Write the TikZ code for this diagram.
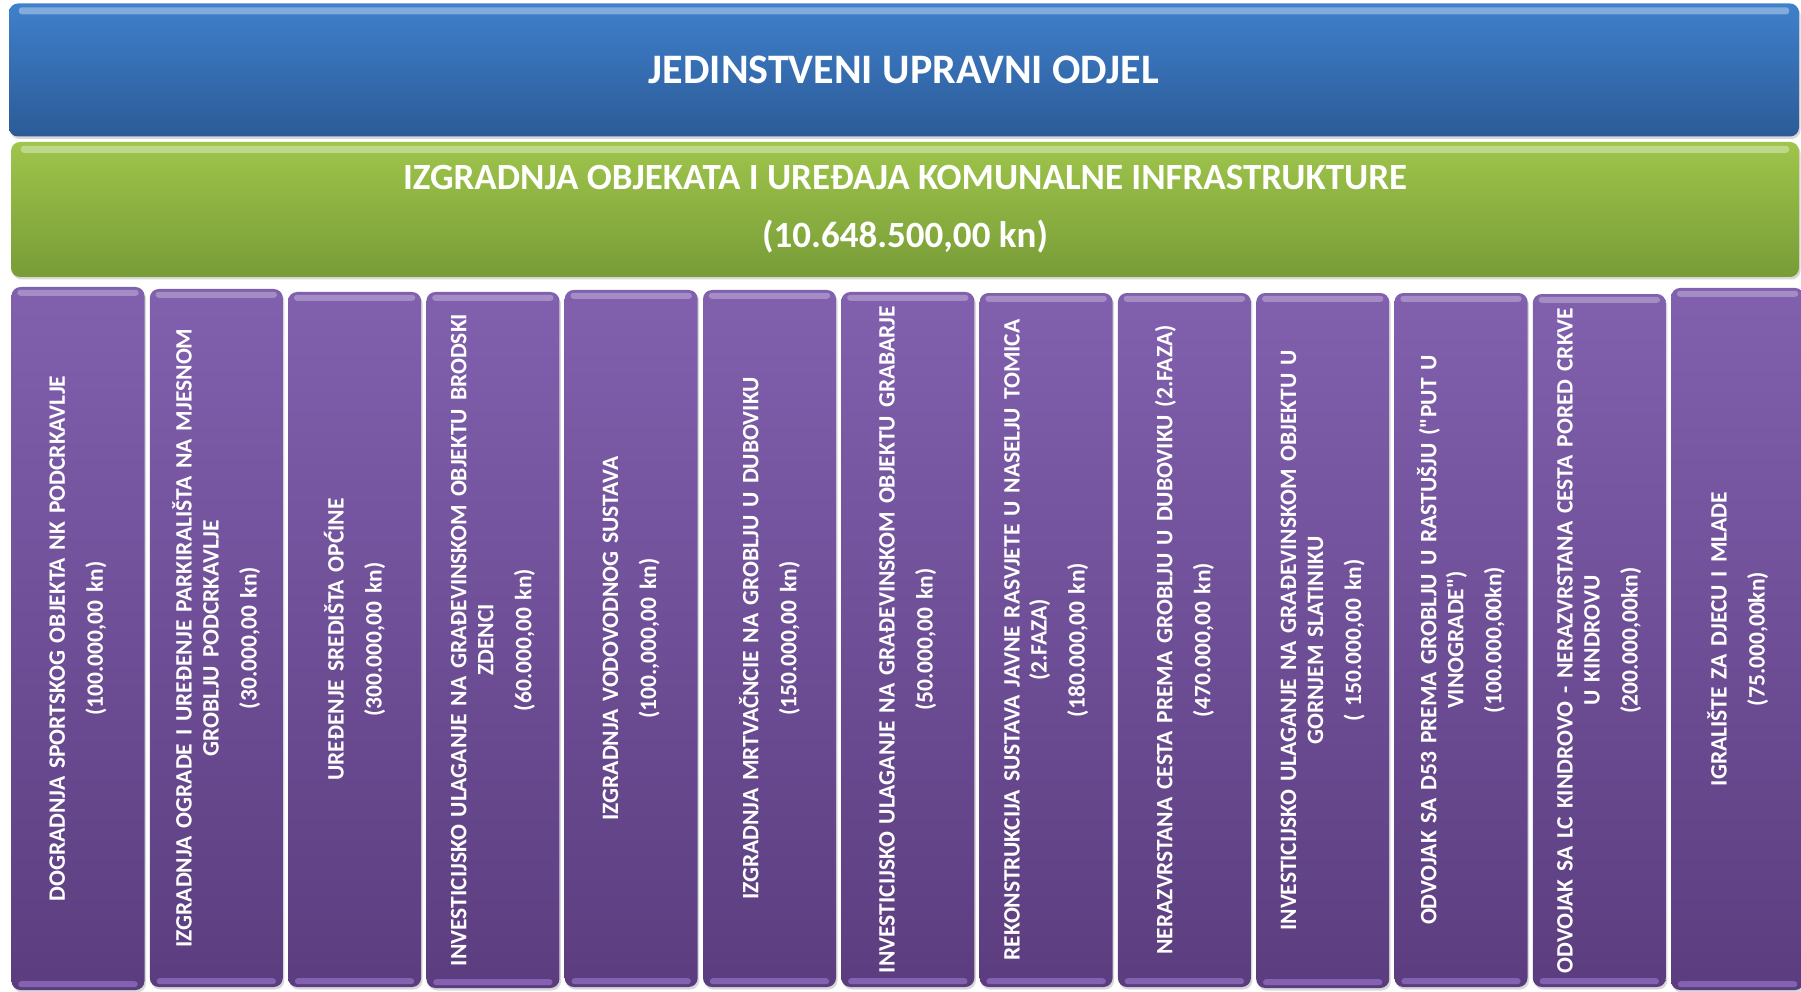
\documentclass[tikz,border=0pt]{standalone}
\usepackage{fontspec}
\setmainfont{Carlito}[Ligatures=TeXOff]
\usetikzlibrary{shadows}
\definecolor{blueTop}{HTML}{3F80CC}
\definecolor{blueBot}{HTML}{2C5B97}
\definecolor{greenTop}{HTML}{9FC54B}
\definecolor{greenBot}{HTML}{789C37}
\definecolor{purTop}{HTML}{8160AE}
\definecolor{purBot}{HTML}{5B3D7F}
\definecolor{purShine}{HTML}{8E6CBE}
\tikzset{
  glossbox/.style={rounded corners=9pt, inner sep=0pt, text=white,
    drop shadow={opacity=0.3, shadow xshift=1.5pt, shadow yshift=-2.5pt}},
  bluebox/.style={glossbox, top color=blueTop, bottom color=blueBot},
  greenbox/.style={glossbox, top color=greenTop, bottom color=greenBot},
  purplebox/.style={glossbox, top color=purTop, bottom color=purBot,
    minimum width=133pt},
  purpletext/.style={rotate=90, text=white, text width=690pt, align=center,
    inner sep=0pt, font=\fontsize{23.5}{27}\selectfont\bfseries},
  shine/.style={white, opacity=0.28, rounded corners=3pt},
  lowshine/.style={purShine, opacity=0.8, rounded corners=3pt}
}
\newcommand\purplecol[5]{% name, center x, top y, bottom y, text
  \node[purplebox, minimum height={(#4-#3)*1pt}] (#1) at (#2,{(#3+#4)/2}) {};
  \fill[shine] ([xshift=6pt,yshift=-3pt]#1.north west) rectangle ([xshift=-6pt,yshift=-9pt]#1.north east);
  \fill[lowshine] ([xshift=7pt,yshift=3pt]#1.south west) rectangle ([xshift=-7pt,yshift=9pt]#1.south east);
  \node[purpletext] (#1t) at (#1.center) {#5};
}
\newcommand\psk{\\[11pt]}
\begin{document}
\begin{tikzpicture}[x=1pt,y=-1pt]
\useasboundingbox[fill=white] (0,0) rectangle (1801,992);
\begin{scope}
\clip (0,0) rectangle (1801,992);
% top
\node[bluebox, minimum width=1790pt, minimum height=133pt,
  font=\fontsize{42}{50}\selectfont\bfseries] (top) at (904,70) {JEDINSTVENI UPRAVNI ODJEL};
\fill[shine, opacity=0.35] ([xshift=10pt,yshift=-4pt]top.north west) rectangle ([xshift=-10pt,yshift=-11pt]top.north east);
% green
\node[greenbox, minimum width=1788pt, minimum height=135pt, align=center,
  font=\fontsize{37}{58}\selectfont\bfseries] (prog) at (905,209.5)
  {IZGRADNJA OBJEKATA I UREĐAJA KOMUNALNE INFRASTRUKTURE\\(10.648.500,00 kn)};
\fill[shine, opacity=0.35] ([xshift=10pt,yshift=-4pt]prog.north west) rectangle ([xshift=-10pt,yshift=-11pt]prog.north east);
% purple columns
\purplecol{p1}{78}{287}{990}{DOGRADNJA  SPORTSKOG OBJEKTA NK PODCRKAVLJE\psk(100.000,00 kn)}
\purplecol{p2}{216.3}{289}{987}{IZGRADNJA OGRADE I UREĐENJE PARKIRALIŠTA NA MJESNOM\\GROBLJU PODCRKAVLJE\psk(30.000,00 kn)}
\purplecol{p3}{354.6}{292}{987}{UREĐENJE SREDIŠTA OPĆINE\psk(300.000,00 kn)}
\purplecol{p4}{492.9}{292}{988}{INVESTICIJSKO ULAGANJE NA GRAĐEVINSKOM OBJEKTU BRODSKI\\ZDENCI\psk(60.000,00 kn)}
\purplecol{p5}{631.2}{290}{987}{IZGRADNJA VODOVODNOG SUSTAVA\psk(100.,000,00 kn)}
\purplecol{p6}{769.5}{290}{987}{IZGRADNJA MRTVAČNCIE NA GROBLJU U DUBOVIKU\psk(150.000,00 kn)}
\purplecol{p7}{907.8}{292}{987}{INVESTICIJSKO ULAGANJE NA GRAĐEVINSKOM OBJEKTU GRABARJE\psk(50.000,00 kn)}
\purplecol{p8}{1046.1}{293}{987}{REKONSTRUKCIJA SUSTAVA JAVNE RASVJETE U NASELJU TOMICA\\(2.FAZA)\psk(180.000,00 kn)}
\purplecol{p9}{1184.4}{293}{987}{NERAZVRSTANA  CESTA PREMA GROBLJU U DUBOVIKU (2.FAZA)\psk(470.000,00 kn)}
\purplecol{p10}{1322.7}{293}{988}{INVESTICIJSKO ULAGANJE NA GRAĐEVINSKOM OBJEKTU U\\GORNJEM SLATINIKU\psk( 150.000,00 kn)}
\purplecol{p11}{1461}{293}{987}{ODVOJAK SA D53 PREMA GROBLJU U RASTUŠJU ("PUT U\\VINOGRADE")\psk(100.000,00kn)}
\purplecol{p12}{1599.3}{294}{987}{ODVOJAK SA LC KINDROVO - NERAZVRSTANA CESTA PORED CRKVE\\U KINDROVU\psk(200.000,00kn)}
\purplecol{p13}{1737.6}{288}{990}{IGRALIŠTE ZA DJECU I MLADE\psk(75.000,00kn)}
\end{scope}
\end{tikzpicture}
\end{document}
